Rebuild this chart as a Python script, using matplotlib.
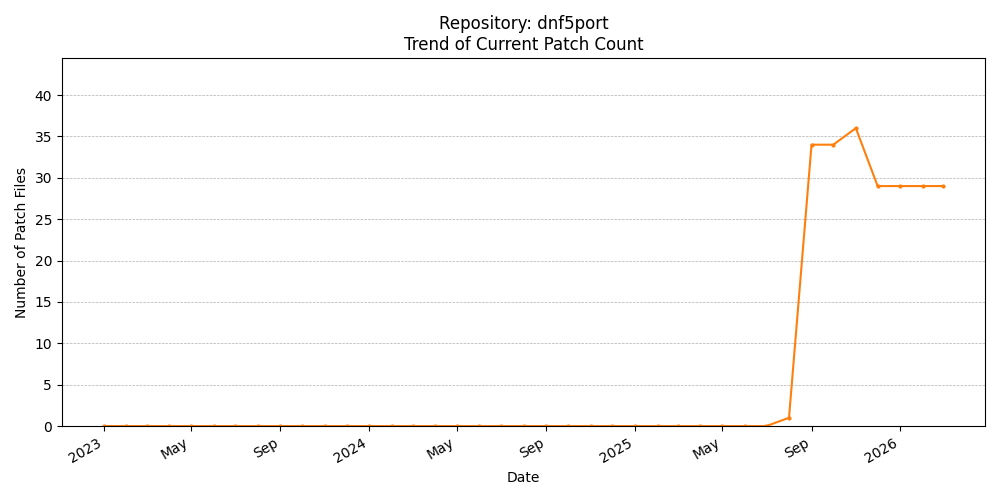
import matplotlib
matplotlib.use("Agg")
import matplotlib.pyplot as plt
import matplotlib.dates as mdates
import pandas as pd

# monthly snapshots, Jan 2023 .. Mar 2026
dates = pd.date_range("2023-01-01", "2026-03-01", freq="MS")
counts = [0] * 31 + [1, 34, 34, 36, 29, 29, 29, 29]

fig, ax = plt.subplots(figsize=(10, 5), dpi=100)
ax.plot(dates, counts, marker="o", markersize=2, color="tab:orange")
ax.set_title("Repository: dnf5port\nTrend of Current Patch Count")
ax.set_xlabel("Date")
ax.set_ylabel("Number of Patch Files")
ax.set_ylim(0, max(counts) * 1.235)
ax.grid(axis="y", linestyle="--", linewidth=0.5)

loc = mdates.MonthLocator(bymonth=[1, 5, 9])
ax.xaxis.set_major_locator(loc)
ax.xaxis.set_major_formatter(mdates.ConciseDateFormatter(loc))
fig.autofmt_xdate()
fig.tight_layout()
fig.savefig("out.png")
